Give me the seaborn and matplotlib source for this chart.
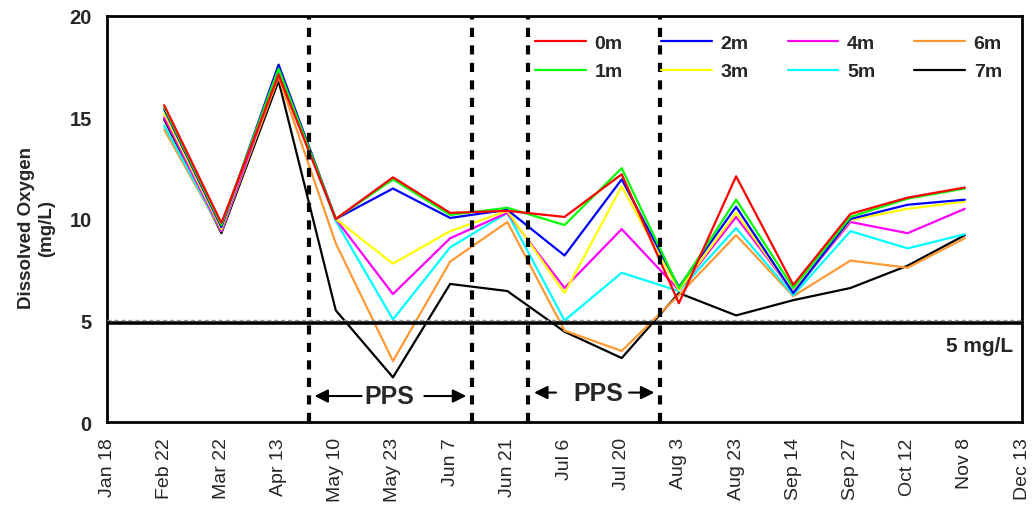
import pandas as pd
import matplotlib
matplotlib.use("Agg")
import matplotlib.pyplot as plt
from matplotlib.lines import Line2D
import seaborn as sns

# sampling dates (first and last are empty axis slots)
dates = ["Jan 18", "Feb 22", "Mar 22", "Apr 13", "May 10", "May 23", "Jun 7", "Jun 21",
         "Jul 6", "Jul 20", "Aug 3", "Aug 23", "Sep 14", "Sep 27", "Oct 12", "Nov 8", "Dec 13"]
sampled = dates[1:16]

depths = ["0m", "1m", "2m", "3m", "4m", "5m", "6m", "7m"]
colors = ["#FF0000", "#00FF00", "#0000FF", "#FFFF00", "#FF00FF", "#00FFFF", "#FF9933", "#000000"]

do_0m = [15.6, 9.8, 17.1, 10.0, 12.05, 10.3, 10.4, 10.1, 12.2, 5.85, 12.1, 6.75, 10.25, 11.05, 11.55]
do_1m = [15.5, 9.7, 17.4, 10.0, 11.95, 10.2, 10.55, 9.7, 12.5, 6.6, 10.95, 6.6, 10.1, 11.0, 11.5]
do_2m = [15.4, 9.6, 17.6, 10.0, 11.5, 10.05, 10.45, 8.2, 11.95, 6.65, 10.6, 6.35, 10.0, 10.7, 10.95]
do_3m = [15.2, 9.5, 17.6, 10.0, 7.8, 9.4, 10.4, 6.35, 11.6, 6.5, 10.3, 6.4, 9.95, 10.5, 10.85]
do_4m = [15.0, 9.4, 17.3, 10.0, 6.3, 9.05, 10.3, 6.6, 9.5, 6.5, 10.1, 6.4, 9.85, 9.3, 10.5]
do_5m = [14.6, 9.4, 17.3, 9.9, 5.05, 8.6, 10.3, 5.0, 7.35, 6.45, 9.55, 6.25, 9.4, 8.55, 9.25]
do_6m = [14.4, 9.4, 17.0, 8.8, 3.0, 7.9, 9.85, 4.5, 3.5, 6.25, 9.2, 6.2, 7.95, 7.6, 9.05]
do_7m = [14.9, 9.3, 16.8, 5.5, 2.2, 6.8, 6.45, 4.45, 3.15, 6.35, 5.25, 6.0, 6.6, 7.7, 9.2]
series = [do_0m, do_1m, do_2m, do_3m, do_4m, do_5m, do_6m, do_7m]

rows = []
for d, vals in zip(depths, series):
    for i, v in enumerate(vals):
        rows.append({"pos": dates.index(sampled[i]), "depth": d, "value": v})
df = pd.DataFrame(rows)

sns.set_style("white")
plt.rcParams["font.family"] = ["Liberation Sans", "DejaVu Sans"]

fig = plt.figure(figsize=(10.36, 5.06), dpi=100)
ax = fig.add_axes([0.1033, 0.164, 0.8832, 0.8026])

# draw deepest first so surface line ends up on top
for d, c in reversed(list(zip(depths, colors))):
    sns.lineplot(data=df[df["depth"] == d], x="pos", y="value", color=c,
                 linewidth=1.6, ax=ax, legend=False)

# 5 mg/L threshold
ax.axhline(4.9, color="black", lw=2.6, zorder=5)
ax.axhline(5.0, color="#999999", lw=1, ls=(0, (3, 2)), zorder=6)
ax.text(15.85, 3.75, "5 mg/L", ha="right", va="center", fontsize=15, fontweight="bold")

# PPS periods
for xv in [3.53, 6.39, 7.37, 9.67]:
    ax.axvline(xv, color="black", lw=3, ls=(0, (2.2, 2)), zorder=7)

arrow = dict(arrowstyle="-|>", color="black", lw=1.5, mutation_scale=20)
ax.text(4.93, 1.28, "PPS", ha="center", va="center", fontsize=18, fontweight="bold")
ax.annotate("", xy=(3.58, 1.28), xytext=(4.5, 1.28), arrowprops=arrow)
ax.annotate("", xy=(6.33, 1.28), xytext=(5.5, 1.28), arrowprops=arrow)
ax.text(8.59, 1.45, "PPS", ha="center", va="center", fontsize=18, fontweight="bold")
ax.annotate("", xy=(7.42, 1.45), xytext=(7.9, 1.45), arrowprops=arrow)
ax.annotate("", xy=(9.62, 1.45), xytext=(9.08, 1.45), arrowprops=arrow)

ax.set_xlim(0, 16)
ax.set_ylim(0, 20)
ax.set_xticks(range(len(dates)))
ax.set_xticklabels(dates, rotation=90, fontsize=14)
ax.set_yticks([0, 5, 10, 15, 20])
ax.set_yticklabels(["0", "5", "10", "15", "20"], fontsize=14.5, fontweight="bold")
ax.tick_params(axis="y", direction="in", length=5, color="#777777", pad=11)
ax.tick_params(axis="x", length=0, pad=11)
ax.set_xlabel("")
ax.set_ylabel("Dissolved Oxygen\n(mg/L)", fontsize=13.5, fontweight="bold")
ax.yaxis.set_label_coords(-0.057, 0.48)

for s in ax.spines.values():
    s.set_color("black")
    s.set_linewidth(2)

handles = [Line2D([], [], color=c, lw=1.6) for c in colors]
leg = fig.legend(handles, depths, ncol=4, loc="upper left",
                 bbox_to_anchor=(0.5164, 0.93), frameon=False, handlelength=2.6,
                 columnspacing=2.0, labelspacing=0.55, handletextpad=0.45,
                 borderpad=0, borderaxespad=0, prop={"weight": "bold", "size": 14})
leg.set_zorder(10)

fig.savefig("out.png", dpi=100)
